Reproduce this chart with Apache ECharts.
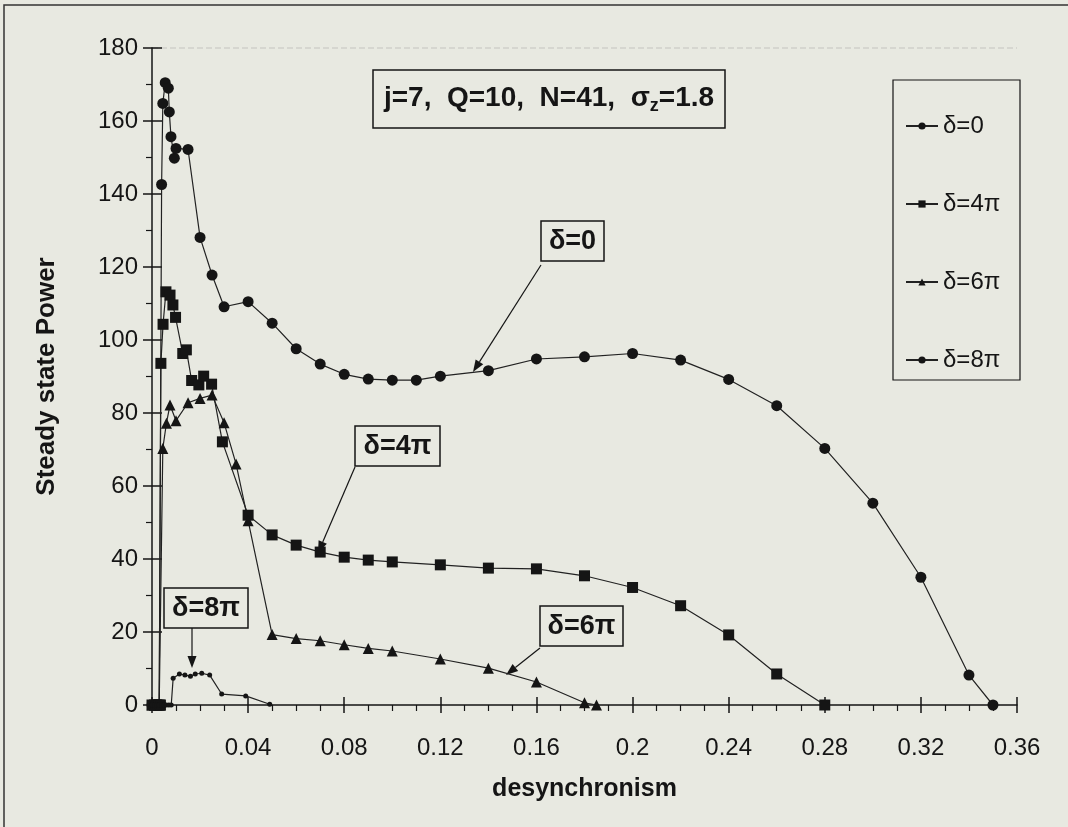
<!DOCTYPE html>
<html>
<head>
<meta charset="utf-8">
<script src="https://cdn.jsdelivr.net/npm/echarts@6/dist/echarts.min.js"></script>
<style>
  html, body { margin: 0; padding: 0; background: #e8e9e1; }
  #chart { width: 1068px; height: 827px; }
</style>
</head>
<body>
<div id="chart"></div>
<script>
// data
var seriesNames = ['δ=0', 'δ=4π', 'δ=6π', 'δ=8π'];

var x0 = [0, 0.001, 0.002, 0.003, 0.0037, 0.004, 0.0045, 0.0055, 0.0068, 0.0072, 0.0079, 0.0093, 0.01, 0.015, 0.02, 0.025, 0.03, 0.04, 0.05, 0.06, 0.07, 0.08, 0.09, 0.10, 0.11, 0.12, 0.14, 0.16, 0.18, 0.20, 0.22, 0.24, 0.26, 0.28, 0.30, 0.32, 0.34, 0.35];
var y0 = [0, 0, 0, 0, 0, 142.6, 164.8, 170.5, 169, 162.5, 155.7, 149.8, 152.5, 152.2, 128.1, 117.8, 109.1, 110.5, 104.6, 97.6, 93.4, 90.6, 89.3, 89.0, 89.0, 90.1, 91.6, 94.8, 95.4, 96.3, 94.5, 89.2, 82, 70.3, 55.3, 35, 8.2, 0];

var x4 = [0, 0.001, 0.002, 0.003, 0.0035, 0.0037, 0.0046, 0.0058, 0.0075, 0.0087, 0.0098, 0.0128, 0.0143, 0.0165, 0.0195, 0.0215, 0.0248, 0.0293, 0.04, 0.05, 0.06, 0.07, 0.08, 0.09, 0.10, 0.12, 0.14, 0.16, 0.18, 0.20, 0.22, 0.24, 0.26, 0.28];
var y4 = [0, 0, 0, 0, 0, 93.6, 104.3, 113.2, 112.3, 109.6, 106.2, 96.3, 97.3, 88.9, 87.7, 90.1, 87.9, 72.1, 52, 46.6, 43.8, 41.9, 40.5, 39.7, 39.2, 38.4, 37.5, 37.3, 35.4, 32.2, 27.2, 19.2, 8.5, 0];

var x6 = [0, 0.001, 0.002, 0.003, 0.0035, 0.0045, 0.006, 0.0075, 0.01, 0.015, 0.02, 0.025, 0.03, 0.035, 0.04, 0.05, 0.06, 0.07, 0.08, 0.09, 0.10, 0.12, 0.14, 0.16, 0.18, 0.185];
var y6 = [0, 0, 0, 0, 0, 70.3, 77.2, 82.2, 77.9, 82.8, 84, 84.9, 77.3, 66, 50.5, 19.3, 18.2, 17.6, 16.5, 15.5, 14.8, 12.6, 10.1, 6.3, 0.6, 0];

var x8 = [0, 0.001, 0.002, 0.003, 0.004, 0.005, 0.006, 0.007, 0.008, 0.0088, 0.0114, 0.0137, 0.016, 0.018, 0.0207, 0.024, 0.029, 0.039, 0.049];
var y8 = [0, 0, 0, 0, 0, 0, 0, 0, 0, 7.3, 8.5, 8.2, 7.9, 8.5, 8.7, 8.2, 3.0, 2.5, 0.2];

var xTicks = { min: 0, max: 0.36, interval: 0.04 };
var yTicks = { min: 0, max: 180, interval: 20 };

function pairs(xs, ys) {
    var out = [];
    for (var i = 0; i < xs.length; i++) out.push([xs[i], ys[i]]);
    return out;
}

var bg = '#e8e9e1';
var ink = '#151515';
var font = "'Liberation Sans', Arial, sans-serif";

// arrow: a line plus a small filled head at (x2, y2)
function arrow(x1, y1, x2, y2) {
    var dx = x2 - x1, dy = y2 - y1;
    var len = Math.sqrt(dx * dx + dy * dy);
    var ux = dx / len, uy = dy / len;
    var bx = x2 - 12 * ux, by = y2 - 12 * uy;
    return [
        { type: 'line', shape: { x1: x1, y1: y1, x2: bx, y2: by }, style: { stroke: ink, lineWidth: 1.2 } },
        { type: 'polygon', shape: { points: [[x2, y2], [bx - 4.5 * uy, by + 4.5 * ux], [bx + 4.5 * uy, by - 4.5 * ux]] }, style: { fill: ink } }
    ];
}

function labelBox(x, y, w, h, txt) {
    return [
        { type: 'rect', shape: { x: x, y: y, width: w, height: h }, style: { fill: bg, stroke: ink, lineWidth: 1.5 } },
        { type: 'text', x: x + w / 2, y: y + h / 2 + 1, style: { text: txt, fill: ink, font: 'bold 27px ' + font, textAlign: 'center', textVerticalAlign: 'middle' } }
    ];
}

var graphics = [
    { type: 'rect', shape: { x: 4, y: 5, width: 1090, height: 850 }, style: { fill: 'none', stroke: '#333', lineWidth: 1.5 } },
    { type: 'rect', shape: { x: 373, y: 70, width: 352, height: 58 }, style: { fill: bg, stroke: ink, lineWidth: 1.5 } },
    { type: 'text', x: 549, y: 98, style: {
        text: '{a|j=7,  Q=10,  N=41,  σ}{s|z}{a|=1.8}',
        textAlign: 'center', textVerticalAlign: 'middle',
        rich: {
            a: { font: 'bold 28px ' + font, fill: ink },
            s: { font: 'bold 18px ' + font, fill: ink, padding: [16, 0, 0, 0] }
        }
    } },
    { type: 'rect', shape: { x: 893, y: 80, width: 127, height: 300 }, style: { fill: 'none', stroke: ink, lineWidth: 1.2 } }
];
graphics = graphics
    .concat(labelBox(541, 221, 63, 40, 'δ=0')).concat(arrow(541, 265, 473, 372))
    .concat(labelBox(355, 426, 85, 40, 'δ=4π')).concat(arrow(355, 467, 318, 553))
    .concat(labelBox(540, 606, 83, 40, 'δ=6π')).concat(arrow(540, 648, 506, 675))
    .concat(labelBox(164, 588, 84, 40, 'δ=8π')).concat(arrow(192, 628, 192, 668));

function lineSeries(name, data, symbol, size) {
    return {
        name: name, type: 'line', data: data,
        symbol: symbol, symbolSize: size,
        itemStyle: { color: ink },
        lineStyle: { color: '#222', width: 1.2 },
        animation: false, z: 3
    };
}

var myChart = echarts.init(document.getElementById('chart'));
myChart.setOption({
    backgroundColor: bg,
    animation: false,
    grid: { left: 152, right: 51, top: 48, bottom: 122 },
    legend: {
        data: seriesNames,
        orient: 'vertical',
        left: 900, top: 109,
        itemWidth: 32, itemHeight: 9,
        itemGap: 54,
        textStyle: { fontFamily: font, fontSize: 24, color: ink, lineHeight: 22 }
    },
    xAxis: [{
        type: 'value', min: xTicks.min, max: xTicks.max, interval: xTicks.interval,
        name: 'desynchronism', nameLocation: 'middle', nameGap: 72,
        nameTextStyle: { fontFamily: font, fontSize: 25, fontWeight: 'bold', color: ink },
        axisLine: { lineStyle: { color: ink, width: 1.5 } },
        axisTick: { length: 8, lineStyle: { color: ink, width: 1.5 } },
        minorTick: { show: true, splitNumber: 4, length: 6, lineStyle: { color: ink, width: 1.2 } },
        axisLabel: { fontFamily: font, fontSize: 24, color: ink, margin: 31 },
        splitLine: { show: false }
    }, {
        type: 'value', min: xTicks.min, max: xTicks.max, interval: xTicks.interval,
        position: 'bottom',
        axisLine: { show: false },
        axisTick: { inside: true, length: 8, lineStyle: { color: ink, width: 1.5 } },
        axisLabel: { show: false },
        splitLine: { show: false }
    }],
    yAxis: [{
        type: 'value', min: yTicks.min, max: yTicks.max, interval: yTicks.interval,
        name: 'Steady state Power', nameLocation: 'middle', nameGap: 92,
        nameTextStyle: { fontFamily: font, fontSize: 26, fontWeight: 'bold', color: ink },
        axisLine: { lineStyle: { color: ink, width: 1.5 } },
        axisTick: { length: 9, lineStyle: { color: ink, width: 1.5 } },
        minorTick: { show: true, splitNumber: 2, length: 6, lineStyle: { color: ink, width: 1.2 } },
        axisLabel: { fontFamily: font, fontSize: 24, color: ink, margin: 14 },
        splitLine: { show: true, lineStyle: { color: ['transparent', 'transparent', 'transparent', 'transparent', 'transparent', 'transparent', 'transparent', 'transparent', 'transparent', '#cfd0ca'], type: 'dashed', width: 1.5 } }
    }, {
        type: 'value', min: yTicks.min, max: yTicks.max, interval: yTicks.interval,
        position: 'left',
        axisLine: { show: false },
        axisTick: { show: true, inside: true, length: 10, lineStyle: { color: ink, width: 1.5 } },
        axisLabel: { show: false },
        splitLine: { show: false }
    }],
    series: [
        lineSeries(seriesNames[0], pairs(x0, y0), 'circle', 11),
        lineSeries(seriesNames[1], pairs(x4, y4), 'rect', 11),
        lineSeries(seriesNames[2], pairs(x6, y6), 'triangle', 11),
        lineSeries(seriesNames[3], pairs(x8, y8), 'circle', 5)
    ],
    graphic: graphics
});
</script>
</body>
</html>
